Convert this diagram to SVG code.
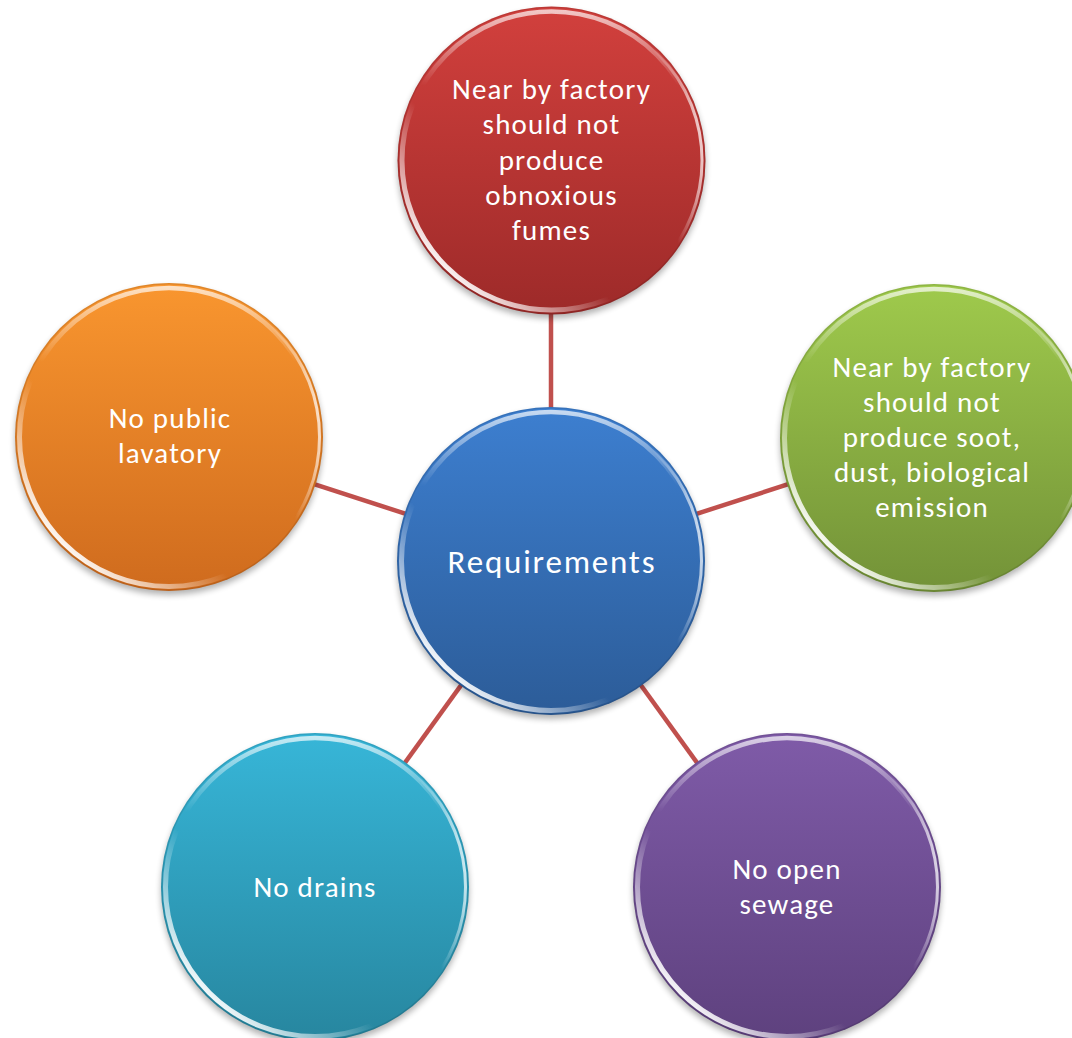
<svg xmlns="http://www.w3.org/2000/svg" width="1072" height="1038" viewBox="0 0 1072 1038">
  <style>
    .lbl { font-family: Carlito, Lato, "Liberation Sans", sans-serif; fill: #ffffff; text-anchor: middle; }
    .sm { font-size: 29px; letter-spacing: 1.2px; }
    .lg { font-size: 33px; letter-spacing: 1.8px; }
    .link { stroke: #c0504d; stroke-width: 4.5; fill: none; }
  </style>
  <defs>
    <!-- vertical body fills, one per colour -->
    <linearGradient id="gBlue" x1="0" y1="0" x2="0" y2="1">
      <stop offset="0" stop-color="#3d7fd0"/><stop offset="1" stop-color="#2c5c98"/>
    </linearGradient>
    <linearGradient id="gRed" x1="0" y1="0" x2="0" y2="1">
      <stop offset="0" stop-color="#d2403d"/><stop offset="1" stop-color="#9d2a29"/>
    </linearGradient>
    <linearGradient id="gGreen" x1="0" y1="0" x2="0" y2="1">
      <stop offset="0" stop-color="#9fca4c"/><stop offset="1" stop-color="#739238"/>
    </linearGradient>
    <linearGradient id="gPurple" x1="0" y1="0" x2="0" y2="1">
      <stop offset="0" stop-color="#7f5ba8"/><stop offset="1" stop-color="#5e417e"/>
    </linearGradient>
    <linearGradient id="gTeal" x1="0" y1="0" x2="0" y2="1">
      <stop offset="0" stop-color="#37b6d8"/><stop offset="1" stop-color="#27869f"/>
    </linearGradient>
    <linearGradient id="gOrange" x1="0" y1="0" x2="0" y2="1">
      <stop offset="0" stop-color="#f9962f"/><stop offset="1" stop-color="#cf6b1e"/>
    </linearGradient>

    <!-- bevel highlights, in node-local coordinates (r = 154) -->
    <linearGradient id="hiTop" gradientUnits="userSpaceOnUse" x1="0" y1="-154" x2="0" y2="-75">
      <stop offset="0" stop-color="#fff" stop-opacity="0.75"/>
      <stop offset="1" stop-color="#fff" stop-opacity="0"/>
    </linearGradient>
    <linearGradient id="hiLow" gradientUnits="userSpaceOnUse" x1="-40" y1="40" x2="-112" y2="112">
      <stop offset="0" stop-color="#fff" stop-opacity="0"/>
      <stop offset="1" stop-color="#fff" stop-opacity="1"/>
    </linearGradient>
    <linearGradient id="hiRight" gradientUnits="userSpaceOnUse" x1="115" y1="-5" x2="154" y2="-10">
      <stop offset="0" stop-color="#fff" stop-opacity="0"/>
      <stop offset="1" stop-color="#fff" stop-opacity="0.8"/>
    </linearGradient>
    <filter id="soft" x="-20%" y="-20%" width="140%" height="140%">
      <feGaussianBlur stdDeviation="3"/>
    </filter>
    <filter id="glow" x="-10%" y="-10%" width="120%" height="120%">
      <feGaussianBlur stdDeviation="0.7"/>
    </filter>
    <clipPath id="disc"><circle r="154"/></clipPath>

    <!-- shared glossy button, body fill supplied by the caller -->
    <g id="shadow">
      <circle cx="0" cy="4" r="154" fill="#000" opacity="0.3" filter="url(#soft)"/>
    </g>
    <g id="gloss">
      <g clip-path="url(#disc)">
        <circle r="154" fill="none" stroke="#000" stroke-opacity="0.1" stroke-width="3"/>
        <circle r="149" fill="none" stroke="url(#hiTop)" stroke-width="4.5" filter="url(#glow)"/>
        <circle r="149.5" fill="none" stroke="url(#hiLow)" stroke-width="5" filter="url(#glow)"/>
        <circle r="150.5" fill="none" stroke="url(#hiRight)" stroke-width="3" filter="url(#glow)"/>
      </g>
    </g>
  </defs>

  <rect width="1072" height="1038" fill="#ffffff"/>

  <!-- spokes from the hub to each satellite -->
  <g id="connectors">
    <line class="link" x1="551" y1="561" x2="551" y2="160"/>
    <line class="link" x1="551" y1="561" x2="934" y2="437"/>
    <line class="link" x1="551" y1="561" x2="787" y2="887"/>
    <line class="link" x1="551" y1="561" x2="315" y2="887"/>
    <line class="link" x1="551" y1="561" x2="169" y2="437"/>
  </g>

  <g id="node-fumes" transform="translate(551.5,160.5)">
    <use href="#shadow"/>
    <circle r="154" fill="url(#gRed)"/>
    <use href="#gloss"/>
    <text class="lbl sm" y="-61.5">Near by factory</text>
    <text class="lbl sm" y="-26.3">should not</text>
    <text class="lbl sm" y="9">produce</text>
    <text class="lbl sm" y="44.2">obnoxious</text>
    <text class="lbl sm" y="79.5">fumes</text>
  </g>

  <g id="node-soot" transform="translate(934,438)">
    <use href="#shadow"/>
    <circle r="154" fill="url(#gGreen)"/>
    <use href="#gloss"/>
    <text class="lbl sm" x="-2" y="-61">Near by factory</text>
    <text class="lbl sm" x="-2" y="-26">should not</text>
    <text class="lbl sm" x="-2" y="9">produce soot,</text>
    <text class="lbl sm" x="-2" y="44">dust, biological</text>
    <text class="lbl sm" x="-2" y="79">emission</text>
  </g>

  <g id="node-sewage" transform="translate(787,887)">
    <use href="#shadow"/>
    <circle r="154" fill="url(#gPurple)"/>
    <use href="#gloss"/>
    <text class="lbl sm" y="-8">No open</text>
    <text class="lbl sm" y="27">sewage</text>
  </g>

  <g id="node-drains" transform="translate(315,887)">
    <use href="#shadow"/>
    <circle r="154" fill="url(#gTeal)"/>
    <use href="#gloss"/>
    <text class="lbl sm" y="10">No drains</text>
  </g>

  <g id="node-lavatory" transform="translate(169,437)">
    <use href="#shadow"/>
    <circle r="154" fill="url(#gOrange)"/>
    <use href="#gloss"/>
    <text class="lbl sm" x="1" y="-9">No public</text>
    <text class="lbl sm" x="1" y="26">lavatory</text>
  </g>

  <g id="node-requirements" transform="translate(551,561)">
    <use href="#shadow"/>
    <circle r="154" fill="url(#gBlue)"/>
    <use href="#gloss"/>
    <text class="lbl lg" x="1" y="12">Requirements</text>
  </g>
</svg>
